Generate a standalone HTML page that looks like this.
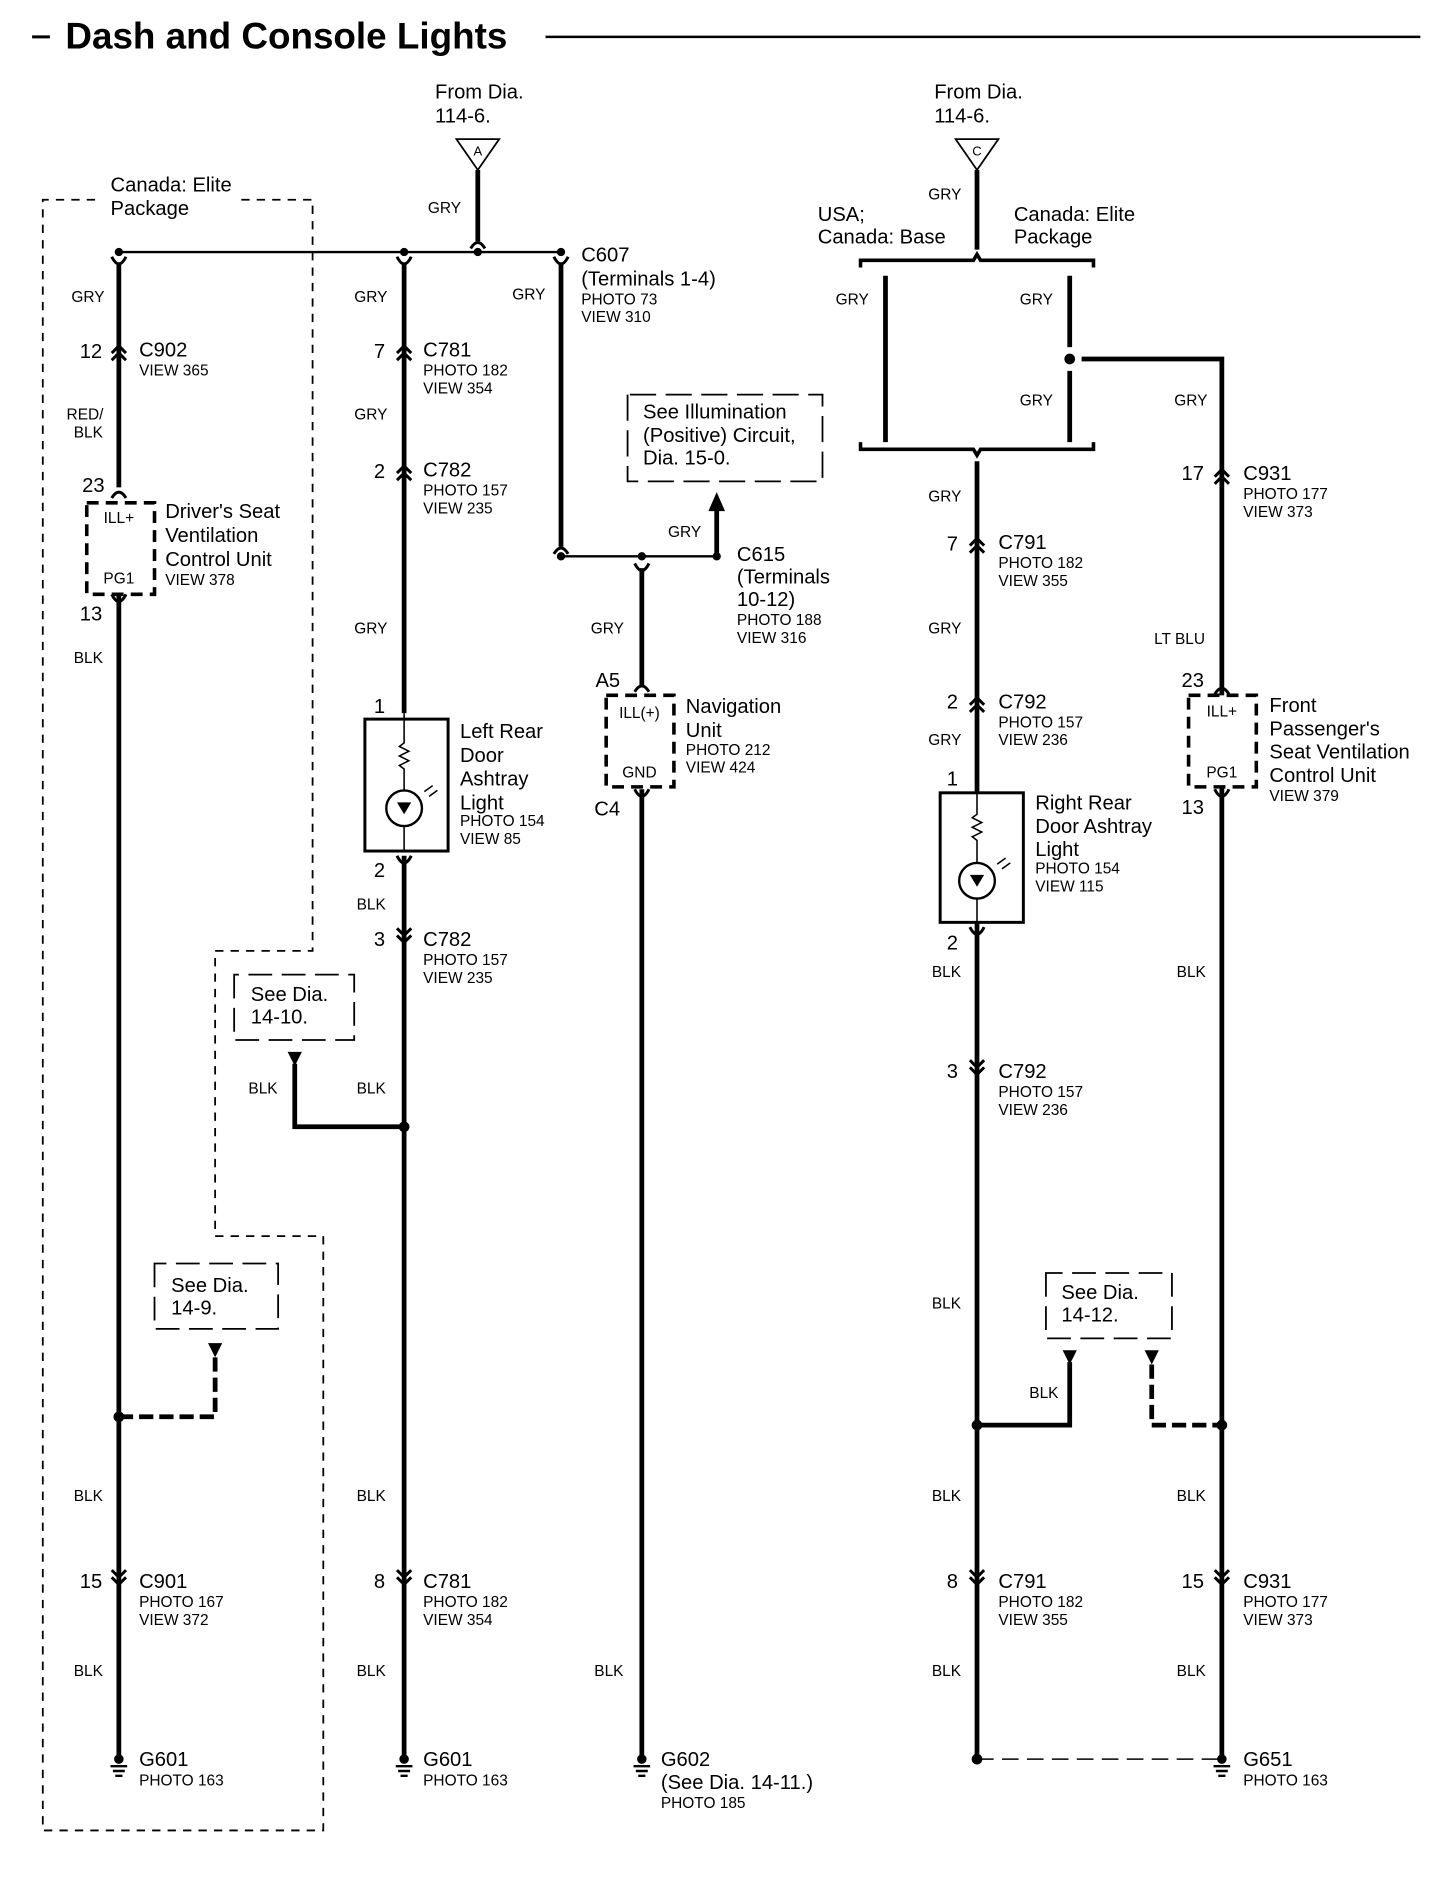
<!DOCTYPE html>
<html><head><meta charset="utf-8"><style>
html,body{margin:0;padding:0;background:#fff}
svg{display:block}
text{font-family:"Liberation Sans",Arial,sans-serif;fill:#000}
.l{font-size:17px}
.s{font-size:13px}
.w{font-size:13px}
.t{font-size:31px;font-weight:bold}
</style></head><body>
<svg width="1456" height="1878" viewBox="0 0 1225 1580" xmlns="http://www.w3.org/2000/svg">
<defs>
<g id="cu"><path d="M-6 3 L0 -3 L6 3 M-6 9 L0 3 L6 9" fill="none" stroke="#000" stroke-width="2.5"/></g>
<g id="cd"><path d="M-6 -3 L0 3 L6 -3 M-6 -9 L0 -3 L6 -9" fill="none" stroke="#000" stroke-width="2.5"/></g>
<g id="cap"><path d="M-6 6 Q0 -4 6 6" fill="none" stroke="#000" stroke-width="2.5"/></g>
<g id="cup"><path d="M-6 -4 Q0 8 6 -4" fill="none" stroke="#000" stroke-width="2.5"/></g>
<g id="gnd"><circle cx="0" cy="0" r="4"/><path d="M-7 6 H7 M-5 10 H5 M-3 14 H3" stroke="#000" stroke-width="2"/></g>
</defs>
<!-- title -->
<path d="M27 31 H42" stroke="#000" stroke-width="2.5"/>
<text x="55" y="41" class="t">Dash and Console Lights</text>
<path d="M459 31 H1195" stroke="#000" stroke-width="2"/>

<!-- dashed region left -->
<path d="M80 168 H36 V1540 H272 V1040 H181 V800 H263 V168 H200" fill="none" stroke="#000" stroke-width="1.5" stroke-dasharray="7,6"/>
<text x="93" y="161" class="l">Canada: Elite</text>
<text x="93" y="181" class="l">Package</text>

<!-- source A -->
<text x="366" y="83" class="l">From Dia.</text>
<text x="366" y="103" class="l">114-6.</text>
<path d="M384 117 H420 L402 143 Z" fill="#fff" stroke="#000" stroke-width="1.5"/>
<text x="402" y="131" class="s" text-anchor="middle" style="font-size:11px">A</text>
<path d="M402 143 V203" stroke="#000" stroke-width="4"/>
<use href="#cap" x="402" y="203"/>
<text x="360" y="179" class="w">GRY</text>
<!-- bus -->
<path d="M100 212 H472" stroke="#000" stroke-width="2"/>
<circle cx="100" cy="212" r="3.5"/><circle cx="340" cy="212" r="3.5"/><circle cx="402" cy="212" r="3.5"/><circle cx="472" cy="212" r="3.5"/>
<use href="#cup" x="100" y="220"/><use href="#cup" x="340" y="220"/><use href="#cup" x="472" y="220"/>
<text x="489" y="220" class="l">C607</text>
<text x="489" y="240" class="l">(Terminals 1-4)</text>
<text x="489" y="256" class="s">PHOTO 73</text>
<text x="489" y="271" class="s">VIEW 310</text>

<!-- column 1 -->
<path d="M100 222 V410 M100 500 V1480" stroke="#000" stroke-width="4"/>
<text x="60" y="254" class="w">GRY</text>
<use href="#cu" x="100" y="294"/><text x="86" y="301" class="l" text-anchor="end">12</text>
<text x="117" y="300" class="l">C902</text><text x="117" y="316" class="s">VIEW 365</text>
<text x="56" y="353" class="w">RED/</text><text x="62" y="368" class="w">BLK</text>
<text x="88" y="414" class="l" text-anchor="end">23</text>
<use href="#cap" x="100" y="413"/>
<rect x="73" y="423" width="57" height="77" fill="none" stroke="#000" stroke-width="3" stroke-dasharray="10,6"/>
<text x="100" y="440" class="s" text-anchor="middle">ILL+</text>
<text x="100" y="491" class="s" text-anchor="middle">PG1</text>
<use href="#cup" x="100" y="504"/>
<text x="139" y="436" class="l">Driver's Seat</text>
<text x="139" y="456" class="l">Ventilation</text>
<text x="139" y="476" class="l">Control Unit</text>
<text x="139" y="492" class="s">VIEW 378</text>
<text x="86" y="522" class="l" text-anchor="end">13</text>
<text x="62" y="558" class="w">BLK</text>
<circle cx="100" cy="1192" r="4.5"/>
<path d="M100 1192 H181 V1140" stroke="#000" stroke-width="4" stroke-dasharray="12,5" fill="none"/>
<path d="M175 1130 H187 L181 1142 Z"/>
<path d="M130 1063 V1118 H234 V1063 Z" fill="none" stroke="#000" stroke-width="1.5" stroke-dasharray="20,8"/>
<text x="144" y="1087" class="l">See Dia.</text><text x="144" y="1106" class="l">14-9.</text>
<text x="62" y="1263" class="w">BLK</text>
<use href="#cd" x="100" y="1330"/><text x="86" y="1336" class="l" text-anchor="end">15</text>
<text x="117" y="1336" class="l">C901</text><text x="117" y="1352" class="s">PHOTO 167</text><text x="117" y="1367" class="s">VIEW 372</text>
<text x="62" y="1410" class="w">BLK</text>
<use href="#gnd" x="100" y="1480"/>
<text x="117" y="1486" class="l">G601</text><text x="117" y="1502" class="s">PHOTO 163</text>

<!-- column 2 -->
<path d="M340 222 V600 M340 720 V1480" stroke="#000" stroke-width="4"/>
<text x="298" y="254" class="w">GRY</text>
<use href="#cu" x="340" y="294"/><text x="324" y="301" class="l" text-anchor="end">7</text>
<text x="356" y="300" class="l">C781</text><text x="356" y="316" class="s">PHOTO 182</text><text x="356" y="331" class="s">VIEW 354</text>
<text x="298" y="353" class="w">GRY</text>
<use href="#cu" x="340" y="395"/><text x="324" y="402" class="l" text-anchor="end">2</text>
<text x="356" y="401" class="l">C782</text><text x="356" y="417" class="s">PHOTO 157</text><text x="356" y="432" class="s">VIEW 235</text>
<text x="298" y="533" class="w">GRY</text>
<text x="324" y="600" class="l" text-anchor="end">1</text>
<rect x="307" y="605" width="70" height="111" fill="#fff" stroke="#000" stroke-width="2.5"/>
<path d="M340 600 V625 l-4 3 8 4 -8 4 8 4 -8 4 4 3 V665 M340 695 V716" fill="none" stroke="#000" stroke-width="1.3"/>
<circle cx="340" cy="680" r="15" fill="none" stroke="#000" stroke-width="2"/>
<path d="M334 675 H346 L340 685 Z M334 686 H346"/>
<path d="M357 666 l7 -5 M361 670 l7 -5" stroke="#000" stroke-width="1.3"/>
<text x="387" y="621" class="l">Left Rear</text><text x="387" y="641" class="l">Door</text><text x="387" y="661" class="l">Ashtray</text><text x="387" y="681" class="l">Light</text>
<text x="387" y="695" class="s">PHOTO 154</text><text x="387" y="710" class="s">VIEW 85</text>
<text x="324" y="738" class="l" text-anchor="end">2</text>
<use href="#cup" x="340" y="724"/>
<text x="300" y="765" class="w">BLK</text>
<use href="#cd" x="340" y="790"/><text x="324" y="796" class="l" text-anchor="end">3</text>
<text x="356" y="796" class="l">C782</text><text x="356" y="812" class="s">PHOTO 157</text><text x="356" y="827" class="s">VIEW 235</text>
<path d="M197 820 V875 H298 V820 Z" fill="none" stroke="#000" stroke-width="1.5" stroke-dasharray="20,8"/>
<text x="211" y="842" class="l">See Dia.</text><text x="211" y="861" class="l">14-10.</text>
<path d="M242 885 H254 L248 897 Z"/>
<path d="M248 895 V948 H340" fill="none" stroke="#000" stroke-width="4"/>
<circle cx="340" cy="948" r="4.5"/>
<text x="209" y="920" class="w">BLK</text><text x="300" y="920" class="w">BLK</text>
<text x="300" y="1263" class="w">BLK</text>
<use href="#cd" x="340" y="1330"/><text x="324" y="1336" class="l" text-anchor="end">8</text>
<text x="356" y="1336" class="l">C781</text><text x="356" y="1352" class="s">PHOTO 182</text><text x="356" y="1367" class="s">VIEW 354</text>
<text x="300" y="1410" class="w">BLK</text>
<use href="#gnd" x="340" y="1480"/>
<text x="356" y="1486" class="l">G601</text><text x="356" y="1502" class="s">PHOTO 163</text>

<!-- column 3 -->
<path d="M472 222 V460" stroke="#000" stroke-width="4"/>
<text x="431" y="252" class="w">GRY</text>
<use href="#cap" x="472" y="460"/>
<path d="M472 468 H603" stroke="#000" stroke-width="2"/>
<circle cx="472" cy="468" r="3.5"/><circle cx="540" cy="468" r="3.5"/><circle cx="603" cy="468" r="3.5"/>
<path d="M603 468 V428" stroke="#000" stroke-width="4"/>
<path d="M596 430 H610 L603 414 Z"/>
<text x="562" y="452" class="w">GRY</text>
<path d="M528 332 V405 H692 V332 Z" fill="none" stroke="#000" stroke-width="1.5" stroke-dasharray="22,8"/>
<text x="541" y="352" class="l">See Illumination</text><text x="541" y="372" class="l">(Positive) Circuit,</text><text x="541" y="391" class="l">Dia. 15-0.</text>
<text x="620" y="472" class="l">C615</text><text x="620" y="491" class="l">(Terminals</text><text x="620" y="510" class="l">10-12)</text>
<text x="620" y="526" class="s">PHOTO 188</text><text x="620" y="541" class="s">VIEW 316</text>
<use href="#cup" x="540" y="478"/>
<path d="M540 478 V578 M540 664 V1480" stroke="#000" stroke-width="4"/>
<text x="497" y="533" class="w">GRY</text>
<text x="501" y="578" class="l">A5</text>
<use href="#cap" x="540" y="576"/>
<rect x="510" y="585" width="57" height="77" fill="none" stroke="#000" stroke-width="3" stroke-dasharray="10,6"/>
<text x="538" y="604" class="s" text-anchor="middle">ILL(+)</text>
<text x="538" y="654" class="s" text-anchor="middle">GND</text>
<use href="#cup" x="540" y="668"/>
<text x="500" y="686" class="l">C4</text>
<text x="577" y="600" class="l">Navigation</text><text x="577" y="620" class="l">Unit</text>
<text x="577" y="635" class="s">PHOTO 212</text><text x="577" y="650" class="s">VIEW 424</text>
<text x="500" y="1410" class="w">BLK</text>
<use href="#gnd" x="540" y="1480"/>
<text x="556" y="1486" class="l">G602</text><text x="556" y="1505" class="l">(See Dia. 14-11.)</text><text x="556" y="1521" class="s">PHOTO 185</text>

<!-- right: source C -->
<text x="786" y="83" class="l">From Dia.</text>
<text x="786" y="103" class="l">114-6.</text>
<path d="M804 117 H840 L822 143 Z" fill="#fff" stroke="#000" stroke-width="1.5"/>
<text x="822" y="131" class="s" text-anchor="middle" style="font-size:11px">C</text>
<path d="M822 143 V210" stroke="#000" stroke-width="4"/>
<text x="781" y="168" class="w">GRY</text>
<text x="688" y="186" class="l">USA;</text><text x="688" y="205" class="l">Canada: Base</text>
<text x="853" y="186" class="l">Canada: Elite</text><text x="853" y="205" class="l">Package</text>
<path d="M724 225 V219 H819 L822 214 L825 219 H920 V225" fill="none" stroke="#000" stroke-width="3"/>
<path d="M724 372 V378 H819 L822 383 L825 378 H920 V372" fill="none" stroke="#000" stroke-width="3"/>
<path d="M745 232 V372 M900 232 V292 M900 312 V372" stroke="#000" stroke-width="4"/>
<circle cx="900" cy="302" r="4.5"/>
<path d="M910 302 H1028 V1480" fill="none" stroke="#000" stroke-width="4"/>
<text x="703" y="256" class="w">GRY</text><text x="858" y="256" class="w">GRY</text>
<text x="858" y="341" class="w">GRY</text><text x="988" y="341" class="w">GRY</text>
<path d="M822 388 V1480" stroke="#000" stroke-width="4"/>
<text x="781" y="422" class="w">GRY</text>
<use href="#cu" x="822" y="456"/><text x="806" y="463" class="l" text-anchor="end">7</text>
<text x="840" y="462" class="l">C791</text><text x="840" y="478" class="s">PHOTO 182</text><text x="840" y="493" class="s">VIEW 355</text>
<text x="781" y="533" class="w">GRY</text>
<use href="#cu" x="822" y="590"/><text x="806" y="596" class="l" text-anchor="end">2</text>
<text x="840" y="596" class="l">C792</text><text x="840" y="612" class="s">PHOTO 157</text><text x="840" y="627" class="s">VIEW 236</text>
<text x="781" y="627" class="w">GRY</text>
<text x="806" y="661" class="l" text-anchor="end">1</text>
<rect x="791" y="667" width="70" height="109" fill="#fff" stroke="#000" stroke-width="2.5"/>
<path d="M822 662 V685 l-4 3 8 4 -8 4 8 4 -8 4 4 3 V726 M822 756 V776" fill="none" stroke="#000" stroke-width="1.3"/>
<circle cx="822" cy="741" r="15" fill="none" stroke="#000" stroke-width="2"/>
<path d="M816 736 H828 L822 746 Z M816 747 H828"/>
<path d="M839 727 l7 -5 M843 731 l7 -5" stroke="#000" stroke-width="1.3"/>
<text x="871" y="681" class="l">Right Rear</text><text x="871" y="701" class="l">Door Ashtray</text><text x="871" y="720" class="l">Light</text>
<text x="871" y="735" class="s">PHOTO 154</text><text x="871" y="750" class="s">VIEW 115</text>
<use href="#cup" x="822" y="784"/>
<text x="806" y="799" class="l" text-anchor="end">2</text>
<text x="784" y="822" class="w">BLK</text>
<use href="#cd" x="822" y="901"/><text x="806" y="907" class="l" text-anchor="end">3</text>
<text x="840" y="907" class="l">C792</text><text x="840" y="923" class="s">PHOTO 157</text><text x="840" y="938" class="s">VIEW 236</text>
<text x="784" y="1101" class="w">BLK</text>
<path d="M880 1071 V1126 H986 V1071 Z" fill="none" stroke="#000" stroke-width="1.5" stroke-dasharray="20,8"/>
<text x="893" y="1093" class="l">See Dia.</text><text x="893" y="1112" class="l">14-12.</text>
<path d="M894 1136 H906 L900 1148 Z"/>
<path d="M900 1146 V1199 H822" fill="none" stroke="#000" stroke-width="4"/>
<circle cx="822" cy="1199" r="4.5"/>
<text x="866" y="1176" class="w">BLK</text>
<path d="M963 1136 H975 L969 1148 Z"/>
<path d="M969 1148 V1199 H1028" fill="none" stroke="#000" stroke-width="4" stroke-dasharray="12,5"/>
<circle cx="1028" cy="1199" r="4.5"/>
<text x="784" y="1263" class="w">BLK</text>
<use href="#cd" x="822" y="1330"/><text x="806" y="1336" class="l" text-anchor="end">8</text>
<text x="840" y="1336" class="l">C791</text><text x="840" y="1352" class="s">PHOTO 182</text><text x="840" y="1367" class="s">VIEW 355</text>
<text x="784" y="1410" class="w">BLK</text>
<circle cx="822" cy="1480" r="4.5"/>
<path d="M822 1480 H1028" stroke="#000" stroke-width="1.3" stroke-dasharray="14,7"/>

<!-- right col 1028 -->
<use href="#cu" x="1028" y="398"/><text x="1013" y="404" class="l" text-anchor="end">17</text>
<text x="1046" y="404" class="l">C931</text><text x="1046" y="420" class="s">PHOTO 177</text><text x="1046" y="435" class="s">VIEW 373</text>
<text x="971" y="542" class="w">LT BLU</text>
<text x="1013" y="578" class="l" text-anchor="end">23</text>
<rect x="1000" y="585" width="57" height="77" fill="#fff" stroke="#000" stroke-width="3" stroke-dasharray="10,6"/>
<use href="#cap" x="1028" y="578"/>
<text x="1028" y="603" class="s" text-anchor="middle">ILL+</text>
<text x="1028" y="654" class="s" text-anchor="middle">PG1</text>
<use href="#cup" x="1028" y="668"/>
<text x="1013" y="685" class="l" text-anchor="end">13</text>
<text x="1068" y="599" class="l">Front</text><text x="1068" y="619" class="l">Passenger's</text><text x="1068" y="638" class="l">Seat Ventilation</text><text x="1068" y="658" class="l">Control Unit</text>
<text x="1068" y="674" class="s">VIEW 379</text>
<text x="990" y="822" class="w">BLK</text>
<text x="990" y="1263" class="w">BLK</text>
<use href="#cd" x="1028" y="1330"/><text x="1013" y="1336" class="l" text-anchor="end">15</text>
<text x="1046" y="1336" class="l">C931</text><text x="1046" y="1352" class="s">PHOTO 177</text><text x="1046" y="1367" class="s">VIEW 373</text>
<text x="990" y="1410" class="w">BLK</text>
<use href="#gnd" x="1028" y="1480"/>
<text x="1046" y="1486" class="l">G651</text><text x="1046" y="1502" class="s">PHOTO 163</text>
</svg>
</body></html>
